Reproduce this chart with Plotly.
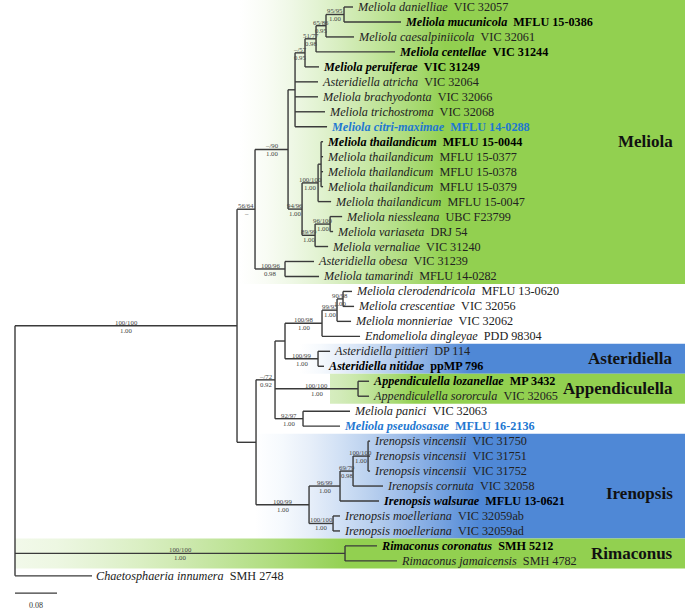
import plotly.graph_objects as go

# ---------------- data ----------------
leaf_names = [
    "Meliola danielliae", "Meliola mucunicola", "Meliola caesalpiniicola", "Meliola centellae",
    "Meliola peruiferae", "Asteridiella atricha", "Meliola brachyodonta", "Meliola trichostroma",
    "Meliola citri-maximae", "Meliola thailandicum", "Meliola thailandicum", "Meliola thailandicum",
    "Meliola thailandicum", "Meliola thailandicum", "Meliola niessleana", "Meliola variaseta",
    "Meliola vernaliae", "Asteridiella obesa", "Meliola tamarindi", "Meliola clerodendricola",
    "Meliola crescentiae", "Meliola monnieriae", "Endomeliola dingleyae", "Asteridiella pittieri",
    "Asteridiella nitidae", "Appendiculella lozanellae", "Appendiculella sororcula", "Meliola panici",
    "Meliola pseudosasae", "Irenopsis vincensii", "Irenopsis vincensii", "Irenopsis vincensii",
    "Irenopsis cornuta", "Irenopsis walsurae", "Irenopsis moelleriana", "Irenopsis moelleriana",
    "Rimaconus coronatus", "Rimaconus jamaicensis", "Chaetosphaeria innumera",
]
leaf_accessions = [
    "VIC 32057", "MFLU 15-0386", "VIC 32061", "VIC 31244", "VIC 31249", "VIC 32064", "VIC 32066",
    "VIC 32068", "MFLU 14-0288", "MFLU 15-0044", "MFLU 15-0377", "MFLU 15-0378", "MFLU 15-0379",
    "MFLU 15-0047", "UBC F23799", "DRJ 54", "VIC 31240", "VIC 31239", "MFLU 14-0282",
    "MFLU 13-0620", "VIC 32056", "VIC 32062", "PDD 98304", "DP 114", "ppMP 796", "MP 3432",
    "VIC 32065", "VIC 32063", "MFLU 16-2136", "VIC 31750", "VIC 31751", "VIC 31752", "VIC 32058",
    "MFLU 13-0621", "VIC 32059ab", "VIC 32059ad", "SMH 5212", "SMH 4782", "SMH 2748",
]
# n = normal, b = bold (new records), c = bold blue (new species)
leaf_styles = [
    "n", "b", "n", "b", "b", "n", "n", "n", "c", "b", "n", "n", "n", "n", "n", "n", "n", "n", "n",
    "n", "n", "n", "n", "n", "b", "b", "n", "n", "c", "n", "n", "n", "n", "b", "n", "n", "b", "n", "n",
]
leaf_parents = [
    "n95", "n95", "n86", "n77", "n57", "npoly", "npoly", "npoly", "npoly",
    "nthaisub", "nthaisub", "nthaisub", "nthaisub", "nthai", "n96100", "n96100", "n89",
    "nobesa", "nobesa", "n9098", "n9098", "n93", "n98", "nast", "nast", "napp", "napp",
    "npan", "npan", "nvinc", "nvinc", "nvinc", "n6979", "n9699", "nmoel", "nmoel",
    "nrim", "nrim", "root",
]
leaf_lengths = [
    0.0171, 0.1086, 0.0533, 0.1505, 0.0267, 0.0438, 0.0438, 0.0571, 0.0610,
    0.0038, 0.0038, 0.0038, 0.0038, 0.0248, 0.0229, 0.0057, 0.0248,
    0.0552, 0.0648, 0.0171, 0.0210, 0.0267, 0.0724, 0.0229, 0.0114, 0.0210, 0.0210,
    0.0895, 0.0705, 0.0038, 0.0038, 0.0038, 0.0571, 0.0743, 0.0133, 0.0133,
    0.0610, 0.0990, 0.1467,
]

# internal nodes (pre-order), parent and branch length (substitutions/site)
node_ids = [
    "ingroup", "meliola", "n90", "npoly", "n57", "n77", "n86", "n95", "n96", "nthai", "nthaisub",
    "n89", "n96100", "nobesa", "lower", "n72", "nA", "n98", "n93", "n9098", "nast", "napp", "npan",
    "niren", "n9699", "n6979", "nvinc", "nmoel", "nrim",
]
node_parents = [
    "root", "ingroup", "meliola", "n90", "npoly", "n57", "n77", "n86", "n90", "n96", "nthai",
    "n96", "n89", "meliola", "ingroup", "lower", "n72", "nA", "n98", "n93", "nA", "n72", "n72",
    "lower", "niren", "n9699", "n6979", "niren", "root",
]
node_lengths = [
    0.4229, 0.0343, 0.0629, 0.0133, 0.0190, 0.0210, 0.0190, 0.0343, 0.0267, 0.0305, 0.0057,
    0.0248, 0.0286, 0.0571, 0.0362, 0.0362, 0.0190, 0.0705, 0.0286, 0.0114, 0.0629, 0.1581, 0.0533,
    0.1010, 0.0590, 0.0248, 0.0286, 0.0457, 0.6286,
]

# support values: ML-BS / MP-BS (top), posterior probability (bottom)
support_nodes = [
    "ingroup", "meliola", "n90", "n57", "n77", "n86", "n95", "n96", "nthai", "n89", "n96100",
    "nobesa", "n98", "n93", "n9098", "nast", "n72", "napp", "npan", "niren", "n9699", "n6979",
    "nvinc", "nmoel", "nrim",
]
support_bs = [
    "100/100", "56/64", "–/90", "–/57", "51/77", "65/86", "95/95", "94/96", "100/100", "89/99",
    "96/100", "100/96", "100/98", "99/93", "90/98", "100/99", "–/72", "100/100", "92/97", "100/99",
    "96/99", "69/79", "100/100", "100/100", "100/100",
]
support_pp = [
    "1.00", "–", "1.00", "0.95", "0.98", "0.95", "1.00", "1.00", "1.00", "1.00", "1.00",
    "0.98", "1.00", "1.00", "1.00", "1.00", "0.92", "1.00", "1.00", "1.00", "1.00", "0.98",
    "1.00", "1.00", "1.00",
]

clade_names = ["Meliola", "Asteridiella", "Appendiculella", "Irenopsis", "Rimaconus"]
clade_first_leaf = [0, 23, 25, 29, 36]
clade_last_leaf = [18, 24, 26, 35, 37]
clade_label_rows = [9, 23.5, 25.5, 32.5, 36.5]

scale_bar_length = 0.08

# ---------------- styling ----------------
GREEN = "#92d050"
BLUE = "#4f88d6"
clade_colors = [GREEN, BLUE, GREEN, BLUE, GREEN]
clade_start_x = [0.4286, 0.5429, 0.6000, 0.4571, 0.0]
clade_fade_in = [0.46, 0.44, 0.24, 0.52, 0.50]
clade_start_col = ["#ffffff", "#ffffff", "#d6edbf", "#ffffff", "#f2f9ea"]

X_MIN, X_MAX = -15 / 525, 670 / 525
Y_TOP, Y_BOT = -7 / 14.97, (613 - 7) / 14.97


def mix(c1, c2, t):
    a = [int(c1[i:i + 2], 16) for i in (1, 3, 5)]
    b = [int(c2[i:i + 2], 16) for i in (1, 3, 5)]
    return "#" + "".join(f"{round(a[k] + (b[k] - a[k]) * t):02x}" for k in range(3))


parent = {}
blen = {}
for nid, par, bl in zip(node_ids, node_parents, node_lengths):
    parent[nid] = par
    blen[nid] = bl
leaf_ids = [f"L{i}" for i in range(len(leaf_names))]
for lid, par, bl in zip(leaf_ids, leaf_parents, leaf_lengths):
    parent[lid] = par
    blen[lid] = bl

children = {}
for nid in node_ids + leaf_ids:
    children.setdefault(parent[nid], []).append(nid)

xpos = {"root": 0.0}


def get_x(n):
    if n not in xpos:
        xpos[n] = get_x(parent[n]) + blen[n]
    return xpos[n]


ypos = {lid: float(i) for i, lid in enumerate(leaf_ids)}


def get_y(n):
    if n not in ypos:
        ys = [get_y(c) for c in children[n]]
        ypos[n] = (min(ys) + max(ys)) / 2
    return ypos[n]


for n in ["root"] + node_ids + leaf_ids:
    get_x(n)
    get_y(n)

fig = go.Figure()

# clade background bands (horizontal gradient, eased)
for name, c0, c1, col, xs, fade, scol in zip(clade_names, clade_first_leaf, clade_last_leaf,
                                             clade_colors, clade_start_x, clade_fade_in, clade_start_col):
    y0, y1 = c0 - 0.5, c1 + 0.5
    stops = []
    for k in range(9):
        t = k / 8
        stops.append([fade * t, mix(scol, col, t ** 1.4)])
    stops.append([1, col])
    fig.add_trace(go.Scatter(
        x=[xs, X_MAX, X_MAX, xs, xs], y=[y0, y0, y1, y1, y0],
        mode="none", fill="toself",
        fillgradient=dict(type="horizontal", colorscale=stops),
        hoverinfo="skip", showlegend=False,
    ))

# branches
lx, ly = [], []
for n in node_ids + leaf_ids:
    p = parent[n]
    lx += [xpos[p], xpos[n], None]
    ly += [ypos[n], ypos[n], None]
for n in ["root"] + node_ids:
    ys = [ypos[c] for c in children[n]]
    lx += [xpos[n], xpos[n], None]
    ly += [min(ys), max(ys), None]
fig.add_trace(go.Scatter(x=lx, y=ly, mode="lines", line=dict(color="#3a3a3a", width=1.4),
                         hoverinfo="skip", showlegend=False))

# scale bar
fig.add_trace(go.Scatter(x=[0, scale_bar_length], y=[39.15, 39.15], mode="lines",
                         line=dict(color="#3a3a3a", width=1.3), hoverinfo="skip", showlegend=False))

ann = []
FONT = "Liberation Serif, Times New Roman, serif"
for lid, name, acc, st in zip(leaf_ids, leaf_names, leaf_accessions, leaf_styles):
    if st == "n":
        txt = f"<i>{name}</i>\u00a0\u00a0{acc}"
        col = "#222222"
    else:
        txt = f"<b><i>{name}</i>\u00a0\u00a0{acc}</b>"
        col = "#1f78d1" if st == "c" else "#000000"
    ann.append(dict(x=xpos[lid], y=ypos[lid], text=txt, xanchor="left", yanchor="middle",
                    xshift=2, showarrow=False, font=dict(family=FONT, size=12.2, color=col)))

for n, bs, pp in zip(support_nodes, support_bs, support_pp):
    xm = (xpos[parent[n]] + xpos[n]) / 2
    ann.append(dict(x=xm, y=ypos[n], text=bs, xanchor="center", yanchor="bottom", yshift=-1,
                    showarrow=False, borderpad=0, font=dict(family=FONT, size=6.8, color="#444444")))
    ann.append(dict(x=xm, y=ypos[n], text=pp, xanchor="center", yanchor="top", yshift=0,
                    showarrow=False, borderpad=0, font=dict(family=FONT, size=6.8, color="#444444")))

for name, row in zip(clade_names, clade_label_rows):
    ann.append(dict(x=1.257, y=row, text=f"<b>{name}</b>", xanchor="right", yanchor="middle",
                    showarrow=False, font=dict(family=FONT, size=17, color="#111111")))

ann.append(dict(x=scale_bar_length / 2, y=40.0, text="0.08", xanchor="center", yanchor="middle",
                showarrow=False, font=dict(family=FONT, size=8, color="#333333")))

fig.update_layout(
    width=685, height=613,
    margin=dict(l=0, r=0, t=0, b=0),
    paper_bgcolor="white", plot_bgcolor="white",
    xaxis=dict(range=[X_MIN, X_MAX], visible=False, fixedrange=True),
    yaxis=dict(range=[Y_BOT, Y_TOP], visible=False, fixedrange=True),
    annotations=ann,
    showlegend=False,
)

fig.write_html("out.html", config={"displayModeBar": False},
               post_script="document.body.style.margin='0';document.body.style.overflow='hidden';")
